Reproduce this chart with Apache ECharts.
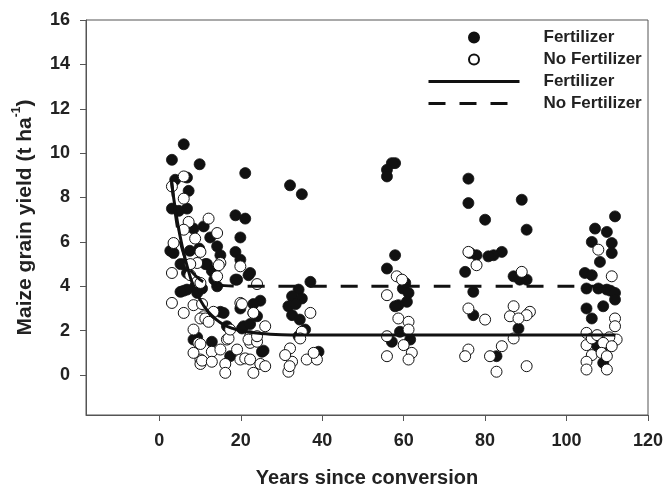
<!DOCTYPE html>
<html>
<head>
<meta charset="utf-8">
<script src="https://cdn.jsdelivr.net/npm/echarts@6/dist/echarts.min.js"></script>
<style>
  html, body { margin: 0; padding: 0; background: #fff; }
  #main { width: 667px; height: 487px; }
</style>
</head>
<body>
<div id="main"></div>
<script>
// years since conversion, yield (t/ha)
var fertilizerPoints = [
  [6.0,10.4],[3.1,9.7],[9.9,9.5],[21.1,9.1],[3.9,8.8],[6.8,8.9],[7.2,8.3],
  [3.1,7.5],[6.8,7.5],[4.8,7.4],[18.7,7.2],[21.1,7.05],[10.9,6.7],[8.4,6.6],
  [12.5,6.2],[14.2,5.8],[19.9,6.2],[2.7,5.6],[3.5,5.5],[5.2,5.0],[6.0,5.0],
  [11.7,5.0],[15.0,5.4],[18.7,5.55],[19.9,5.2],[11.3,5.0],[12.9,4.7],[6.8,4.6],
  [9.8,5.7],[7.5,5.6],[18.7,4.3],[19.1,4.3],[21.9,4.5],[22.3,4.6],[6.0,3.8],
  [6.8,3.85],[8.8,4.0],[14.2,4.0],[13.5,4.3],[10.5,3.9],[5.2,3.75],[9.3,3.7],
  [24.8,3.35],[23.1,3.2],[19.9,3.0],[23.1,2.8],[15.0,2.85],[15.8,2.8],
  [24.0,2.65],[16.6,2.2],[20.3,2.1],[20.7,2.2],[22.3,2.3],[9.3,1.7],[8.4,1.6],
  [12.9,1.5],[17.4,0.85],[25.6,1.1],[25.2,1.05],
  [32.1,8.55],[35.0,8.15],[37.1,4.2],[34.2,3.85],[32.6,3.55],[35.0,3.45],
  [31.7,3.1],[33.5,3.2],[32.6,2.7],[34.5,2.5],[35.8,2.05],[34.2,1.75],[39.1,1.05],
  [57.9,9.55],[57.1,9.55],[55.9,9.25],[55.9,8.95],[57.9,5.4],[55.9,4.8],
  [60.4,4.15],[59.8,3.9],[61.2,3.7],[60.8,3.3],[58.7,3.15],[57.9,3.1],
  [59.1,1.95],[57.1,1.5],[61.6,1.6],
  [75.9,8.85],[75.9,7.75],[89.0,7.9],[80.0,7.0],[90.2,6.55],[84.1,5.55],
  [82.1,5.4],[80.8,5.35],[77.9,5.4],[76.3,5.5],[75.1,4.65],[87.0,4.45],
  [88.5,4.3],[90.2,4.3],[77.1,3.75],[77.1,2.7],[88.2,2.1],[82.8,0.85],
  [111.9,7.15],[107.0,6.6],[109.9,6.45],[106.2,6.0],[111.1,5.95],[111.1,5.5],
  [108.2,5.1],[104.5,4.6],[106.2,4.5],[104.9,3.9],[107.8,3.9],[109.9,3.85],
  [110.8,3.8],[111.9,3.7],[111.9,3.4],[104.9,3.0],[109.0,3.1],[106.2,2.55],
  [107.4,1.35],[108.5,1.2],[109.0,0.55]
];

var noFertilizerPoints = [
  [6.0,8.95],[3.1,8.5],[6.0,7.95],[7.2,6.9],[12.1,7.05],[14.2,6.4],[6.0,6.55],
  [8.8,6.15],[3.5,5.95],[10.1,5.55],[9.3,5.05],[7.6,5.0],[15.0,5.05],[14.6,4.95],
  [14.2,4.45],[7.6,4.5],[9.3,4.2],[10.1,4.15],[19.9,4.9],[24.0,4.1],[3.1,4.6],
  [3.1,3.25],[6.0,2.8],[8.4,3.15],[10.5,3.2],[10.9,2.65],[10.1,2.55],[11.3,2.55],
  [12.1,2.4],[13.3,2.85],[8.4,2.05],[19.9,3.25],[20.3,3.2],[23.1,2.8],[26.0,2.2],
  [22.3,1.75],[16.6,1.6],[17.0,1.65],[9.6,1.45],[10.1,1.4],[10.1,0.7],[10.1,0.5],
  [10.5,0.65],[12.9,1.05],[12.9,0.6],[15.0,1.15],[19.1,1.15],[19.9,0.7],
  [21.1,0.75],[16.2,0.5],[16.2,0.1],[22.3,0.7],[24.8,0.5],[23.1,0.1],[22.3,1.45],
  [21.9,1.6],[24.0,1.5],[24.0,1.75],[26.0,0.4],[17.4,2.05],[8.4,1.0],
  [37.1,2.8],[35.0,1.95],[34.6,1.65],[32.1,1.2],[32.6,0.6],[36.2,0.7],[38.7,0.7],
  [37.9,1.0],[31.7,0.15],[30.9,0.9],[32.0,0.4],
  [58.3,4.45],[59.6,4.3],[55.9,3.6],[58.7,2.55],[61.2,2.4],[61.2,2.05],[55.9,1.75],
  [60.0,1.35],[62.0,1.0],[55.9,0.85],[61.2,0.7],
  [75.9,5.55],[77.9,4.95],[89.0,4.65],[75.9,3.0],[80.0,2.5],[87.0,3.1],[91.0,2.85],
  [86.1,2.65],[90.2,2.7],[88.2,2.55],[87.0,1.65],[84.1,1.3],[75.9,1.15],
  [75.1,0.85],[81.2,0.85],[82.8,0.15],[90.2,0.4],
  [107.8,5.65],[111.1,4.45],[111.9,2.55],[111.9,2.2],[112.3,1.6],[104.9,1.9],
  [104.9,1.35],[106.2,1.65],[107.5,1.8],[110.5,1.7],[109.0,1.45],[111.1,1.3],
  [106.2,0.9],[108.6,1.0],[109.9,0.85],[104.9,0.6],[104.9,0.25],[109.9,0.25]
];

// fitted curves
var fitYears = [3, 4, 5, 6, 7, 8, 10, 12, 14, 16, 18, 20, 25, 30, 40, 60, 80, 100, 112];
var fertilizerFit = [8.7, 7.4, 6.35, 5.5, 4.8, 4.2, 3.4, 2.85, 2.5, 2.25, 2.1, 2.0, 1.87, 1.82, 1.8, 1.8, 1.8, 1.8, 1.8];
var noFertilizerFit = [8.8, 7.2, 6.15, 5.45, 4.97, 4.65, 4.3, 4.13, 4.06, 4.03, 4.01, 4.0, 4.0, 4.0, 4.0, 4.0, 4.0, 4.0, 4.0];

var xTicks = [0, 20, 40, 60, 80, 100, 120];
var yTicks = [0, 2, 4, 6, 8, 10, 12, 14, 16];

function pairs(xs, ys) {
  return xs.map(function (x, i) { return [x, ys[i]]; });
}

var myChart = echarts.init(document.getElementById('main'));
var font = '"Liberation Sans", Arial, sans-serif';
var axisColor = '#555';
var dash = [17, 14];

var option = {
  animation: false,
  textStyle: { fontFamily: font },
  grid: {
    left: 86, right: 19, top: 20, bottom: 72,
    outerBoundsMode: 'none',
    show: true, borderColor: axisColor, borderWidth: 1
  },
  legend: {
    orient: 'vertical',
    left: 422,
    top: 24,
    padding: 5,
    itemWidth: 91,
    itemHeight: 10,
    itemGap: 5,
    textStyle: { fontFamily: font, fontWeight: 'bold', fontSize: 17, color: '#222', padding: [0, 0, 0, 19] },
    data: [
      { name: 'Fertilizer' },
      { name: 'No Fertilizer' },
      { name: 'Fertilizer fit', itemStyle: { opacity: 0 }, lineStyle: { width: 3 } },
      { name: 'No Fertilizer fit', itemStyle: { opacity: 0 }, lineStyle: { width: 3, type: dash } }
    ],
    formatter: function (name) { return name.replace(' fit', ''); }
  },
  xAxis: {
    type: 'value',
    min: -18,
    max: 120,
    name: 'Years since conversion',
    nameLocation: 'middle',
    nameGap: 53,
    nameTextStyle: { fontFamily: font, fontWeight: 'bold', fontSize: 20, color: '#222' },
    axisLine: { onZero: false, lineStyle: { color: axisColor } },
    axisTick: { customValues: xTicks, length: 6, lineStyle: { color: axisColor } },
    axisLabel: { customValues: xTicks, margin: 17, fontFamily: font, fontWeight: 'bold', fontSize: 18, color: '#222' },
    splitLine: { show: false }
  },
  yAxis: {
    type: 'value',
    min: -1.8,
    max: 16,
    name: '{a|Maize grain yield (t ha}{s|-1}{a|)}',
    nameLocation: 'middle',
    nameGap: 50,
    nameTextStyle: {
      rich: {
        a: { fontFamily: font, fontWeight: 'bold', fontSize: 21, color: '#222', lineHeight: 25, verticalAlign: 'bottom' },
        s: { fontFamily: font, fontWeight: 'bold', fontSize: 12, color: '#222', lineHeight: 25, verticalAlign: 'top' }
      }
    },
    axisLine: { show: true, onZero: false, lineStyle: { color: axisColor } },
    axisTick: { show: true, customValues: yTicks, length: 6, lineStyle: { color: axisColor } },
    axisLabel: { customValues: yTicks, margin: 16, fontFamily: font, fontWeight: 'bold', fontSize: 18, color: '#222' },
    splitLine: { show: false }
  },
  series: [
    {
      name: 'Fertilizer',
      type: 'scatter',
      data: fertilizerPoints,
      symbolSize: 11,
      itemStyle: { color: '#111', borderColor: '#111', borderWidth: 0.8, opacity: 1 },
      z: 2
    },
    {
      name: 'No Fertilizer',
      type: 'scatter',
      data: noFertilizerPoints,
      symbolSize: 11,
      itemStyle: { color: '#fff', borderColor: '#111', borderWidth: 1, opacity: 1 },
      z: 3
    },
    {
      name: 'Fertilizer fit',
      type: 'line',
      data: pairs(fitYears, fertilizerFit),
      smooth: 0.4,
      showSymbol: false,
      symbol: 'none',
      itemStyle: { color: '#111' },
      lineStyle: { color: '#111', width: 3 },
      z: 4
    },
    {
      name: 'No Fertilizer fit',
      type: 'line',
      data: pairs(fitYears, noFertilizerFit),
      smooth: 0.4,
      showSymbol: false,
      symbol: 'none',
      itemStyle: { color: '#111' },
      lineStyle: { color: '#111', width: 3, type: dash },
      z: 4
    }
  ]
};

myChart.setOption(option);
</script>
</body>
</html>
